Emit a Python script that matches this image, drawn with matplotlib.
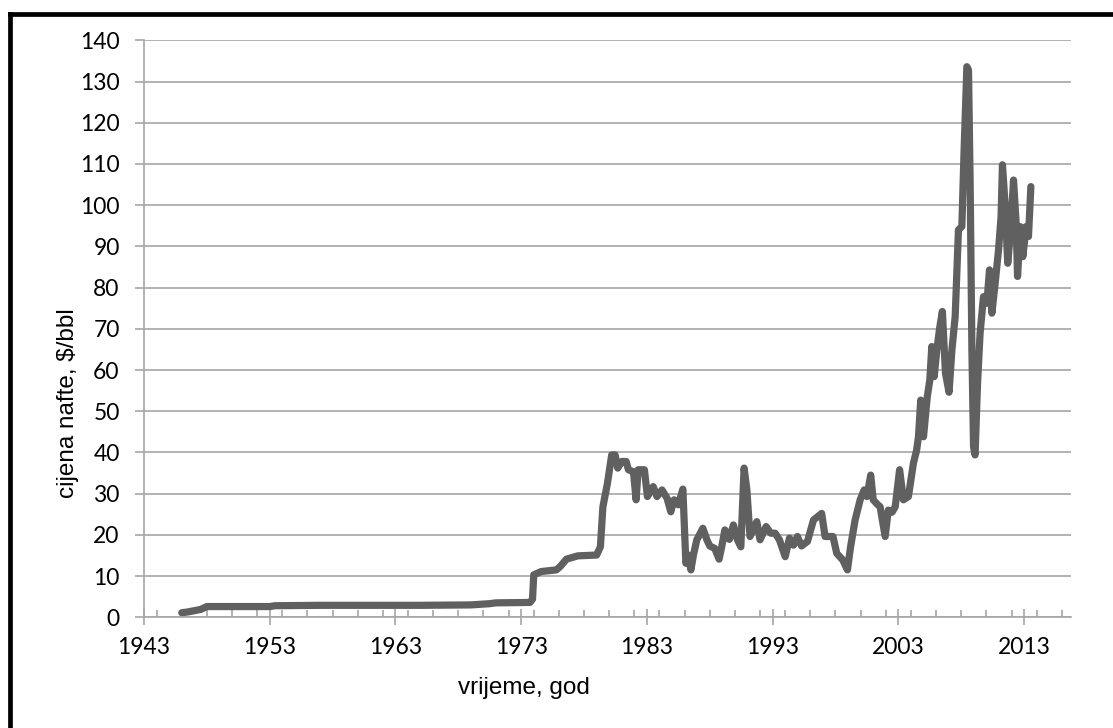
import matplotlib.pyplot as plt
from matplotlib.lines import Line2D
from matplotlib.ticker import MultipleLocator

# godine (decimalno) i cijena nafte u $/bbl, ocitano sa slike
godine = [1946.0, 1946.5, 1947.0, 1947.5, 1948.0, 1950.0, 1953.0, 1953.4, 1957.0,
          1960.0, 1965.0, 1969.0, 1970.5, 1971.0, 1973.7, 1973.9, 1974.0, 1974.6,
          1975.8, 1976.1, 1976.6, 1977.5, 1979.0, 1979.3, 1979.5, 1979.86, 1980.2,
          1980.47, 1980.68, 1981.0, 1981.35, 1981.53, 1981.93, 1982.14, 1982.3,
          1982.8, 1983.04, 1983.5, 1983.8, 1984.2, 1984.6, 1984.9, 1985.16, 1985.5,
          1985.86, 1986.1, 1986.3, 1986.5, 1986.7, 1986.97, 1987.45, 1987.77,
          1988.0, 1988.4, 1988.74, 1988.95, 1989.2, 1989.56, 1989.88, 1990.2,
          1990.47, 1990.73, 1990.95, 1991.2, 1991.74, 1992.0, 1992.48, 1992.85,
          1993.2, 1993.54, 1994.0, 1994.34, 1994.66, 1994.97, 1995.3, 1995.77,
          1996.25, 1996.9, 1997.17, 1997.8, 1998.1, 1998.58, 1998.95, 1999.2,
          1999.56, 1999.96, 2000.28, 2000.5, 2000.8, 2001.0, 2001.3, 2001.55,
          2001.95, 2002.2, 2002.5, 2002.75, 2003.1, 2003.4, 2003.8, 2004.2, 2004.45,
          2004.6, 2004.78, 2005.0, 2005.3, 2005.5, 2005.66, 2005.85, 2006.06,
          2006.3, 2006.5, 2006.75, 2007.03, 2007.26, 2007.52, 2007.78, 2008.05,
          2008.23, 2008.45, 2008.58, 2008.71, 2008.85, 2008.98, 2009.1, 2009.3,
          2009.5, 2009.77, 2010.04, 2010.25, 2010.44, 2010.7, 2010.97, 2011.17,
          2011.28, 2011.5, 2011.7, 2011.95, 2012.16, 2012.37, 2012.48, 2012.7,
          2012.9, 2013.16, 2013.35, 2013.54]
cijena = [1.1, 1.3, 1.6, 1.9, 2.6, 2.6, 2.6, 2.8, 2.9,
          2.9, 2.9, 3.0, 3.3, 3.5, 3.6, 4.4, 10.3, 11.1,
          11.5, 12.3, 14.1, 14.9, 15.1, 17.1, 26.8, 32.5, 39.4,
          39.4, 36.2, 37.8, 37.8, 35.8, 35.3, 28.5, 35.8,
          35.8, 29.3, 31.7, 29.3, 30.9, 28.9, 25.6, 28.5, 27.3,
          31.1, 13.1, 15.1, 11.5, 15.1, 18.8, 21.6, 18.8,
          17.3, 16.7, 14.1, 17.1, 21.2, 18.9, 22.4, 18.8,
          17.1, 36.2, 30.9, 19.6, 23.2, 18.8, 22.0, 20.4,
          20.4, 18.8, 14.7, 19.2, 17.5, 19.6, 17.3, 18.4,
          23.6, 25.2, 19.6, 19.6, 15.5, 13.9, 11.5, 17.1,
          23.6, 28.5, 30.9, 29.3, 34.5, 28.5, 27.5, 26.8,
          19.6, 26.0, 25.5, 26.8, 35.8, 28.5, 29.3, 37.4, 40.5,
          43.8, 52.7, 43.8, 53.5, 57.5, 65.7, 58.4, 64.9,
          70.5, 74.2, 59.2, 54.6, 64.9, 73.0, 94.0, 94.8,
          113.4, 133.6, 132.8, 105.3, 64.9, 41.4, 39.4, 56.8,
          68.9, 77.8, 76.2, 84.3, 73.8, 81.1, 89.2, 97.2,
          109.8, 99.7, 85.9, 94.8, 106.1, 95.6, 82.7, 94.8,
          87.5, 94.8, 92.4, 104.5]

x_tickovi = [1943, 1953, 1963, 1973, 1983, 1993, 2003, 2013]
y_tickovi = list(range(0, 141, 10))

siva = '#a6a6a6'
fig = plt.figure(figsize=(11.13, 7.28), dpi=100)
ax = fig.add_axes([0.1294, 0.1521, 0.8325, 0.7925])

ax.plot(godine, cijena, color='#606060', linewidth=5.2, solid_joinstyle='round',
        solid_capstyle='round')

ax.set_xlim(1943, 2016.7)
ax.set_ylim(0, 140)
ax.set_xticks(x_tickovi)
ax.xaxis.set_minor_locator(MultipleLocator(2))
ax.set_yticks(y_tickovi)
ax.yaxis.grid(True, color=siva, linewidth=1.2)
ax.set_axisbelow(True)

for s in ['top', 'right']:
    ax.spines[s].set_visible(False)
for s in ['left', 'bottom']:
    ax.spines[s].set_color(siva)
    ax.spines[s].set_linewidth(1.2)

ax.tick_params(axis='x', which='major', direction='inout', length=11, width=1.2,
               color=siva, pad=9)
ax.tick_params(axis='x', which='minor', direction='in', length=5, width=1.2,
               color=siva)
ax.tick_params(axis='y', direction='out', length=6.5, width=1.2, color=siva, pad=11)
for lab in ax.get_xticklabels() + ax.get_yticklabels():
    lab.set_fontfamily('Lato')
    lab.set_fontsize(16.5)

fig.text(524 / 1113, 1 - 688 / 728, 'vrijeme, god', ha='center', va='center',
         fontsize=17.5, family='Liberation Sans')
fig.text(68 / 1113, 1 - 403 / 728, 'cijena nafte, $/bbl', ha='center', va='center',
         rotation=90, fontsize=17.5, family='Liberation Sans')

# okvir slike (samo gornji i lijevi rub su vidljivi)
fig.add_artist(Line2D([10 / 1113, 10 / 1113], [-0.1, 1 - 14 / 728], color='black',
                      linewidth=3.4, transform=fig.transFigure))
fig.add_artist(Line2D([10 / 1113, 1.1], [1 - 14 / 728, 1 - 14 / 728], color='black',
                      linewidth=3.4, transform=fig.transFigure))

fig.savefig('out.png', dpi=100)
